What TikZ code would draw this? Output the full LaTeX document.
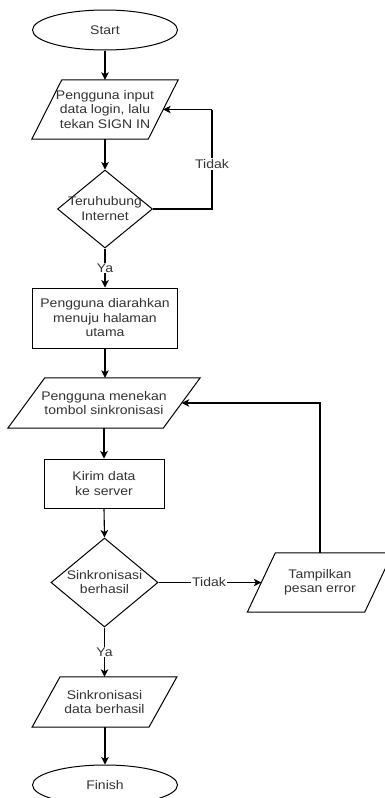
\documentclass[tikz,border=0pt]{standalone}
\usepackage{fontspec}
\setmainfont{Liberation Sans}[FakeStretch=1.12]
\usetikzlibrary{shapes.geometric,arrows.meta}
\definecolor{txt}{rgb}{0.2,0.2,0.2}
\newcommand\paradraw[2]{%
  \draw[outline] ([xshift=#2]#1.north west) -- ([xshift=#2]#1.north east)
    -- ([xshift=-#2]#1.south east) -- ([xshift=-#2]#1.south west) -- cycle;}
\begin{document}
\begin{tikzpicture}[x=1pt,y=-1pt,
  font=\fontsize{12.5}{14.5}\selectfont,
  outline/.style={draw=black,line width=1pt},
  lbl/.style={text=txt,align=center,inner sep=0pt},
  term/.style={ellipse,outline,lbl,minimum width=145pt,minimum height=40pt},
  procbox/.style={rectangle,outline,lbl},
  parabox/.style={rectangle,draw=none,lbl},
  decision/.style={diamond,outline,inner sep=0pt},
  edgelbl/.style={fill=white,text=txt,inner sep=1pt},
  arr/.style={line width=1.1pt,-{Stealth[length=7.5pt,width=7.5pt,inset=2pt]}},
  plain/.style={line width=1.1pt}]
\useasboundingbox (0,0) rectangle (384,798);
\fill[white] (0,0) rectangle (384,798);

% nodes
\node[term] (start) at (105,30) {Start};
\node[parabox,minimum width=116pt,minimum height=59pt] (p1) at (105,109.5)
  {Pengguna input\\data login, lalu\\tekan SIGN IN};
\paradraw{p1}{15pt}
\node[decision,minimum width=95pt,minimum height=78pt] (d1) at (105,209) {};
\node[lbl] (d1t) at (105,208.5) {Teruhubung\\Internet};
\node[procbox,minimum width=145pt,minimum height=60pt] (b1) at (105,318)
  {Pengguna diarahkan\\menuju halaman\\utama};
\node[parabox,minimum width=155pt,minimum height=50pt] (p2) at (104,403)
  {Pengguna menekan\\tombol sinkronisasi};
\paradraw{p2}{18.5pt}
\node[procbox,minimum width=120pt,minimum height=49pt] (b2) at (104,483.5)
  {Kirim data\\ke server};
\node[decision,minimum width=107pt,minimum height=89pt] (d2) at (104.5,582.5) {};
\node[lbl] (d2t) at (104.5,582) {Sinkronisasi\\berhasil};
\node[parabox,minimum width=117pt,minimum height=59pt] (p4) at (320,582.5)
  {Tampilkan\\pesan error};
\paradraw{p4}{14pt}
\node[parabox,minimum width=116.5pt,minimum height=50pt] (p3) at (104.5,702)
  {Sinkronisasi\\data berhasil};
\paradraw{p3}{14pt}
\node[term] (finish) at (105,785) {Finish};

% helper coordinates
\coordinate (c1) at (212,109.5);

% connectors
\draw[arr] (start.south) -- (p1.north -| start.south);
\draw[arr] (p1.south -| d1.north) -- (d1.north);
\draw[plain] (d1.east) -| (c1);
\draw[arr] (c1) -- (p1.east);
\node[edgelbl] (t1) at (212,164) {Tidak};
\draw[arr] (d1.south) -- (b1.north -| d1.south);
\node[edgelbl] (y1) at (105,268) {Ya};
\draw[arr] (b1.south) -- (p2.north -| b1.south);
\draw[arr] (p2.south -| b2.north) -- (b2.north);
\draw[arr] (b2.south) -- (d2.north);
\draw[arr] (d2.east) -- (p4.west);
\node[edgelbl] (t2) at (209,582.5) {Tidak};
\draw[arr] (p4.north) |- (p2.east);
\draw[arr] (d2.south) -- (p3.north -| d2.south);
\node[edgelbl] (y2) at (104.5,652) {Ya};
\draw[arr] (p3.south -| finish.north) -- (finish.north);
\end{tikzpicture}
\end{document}
